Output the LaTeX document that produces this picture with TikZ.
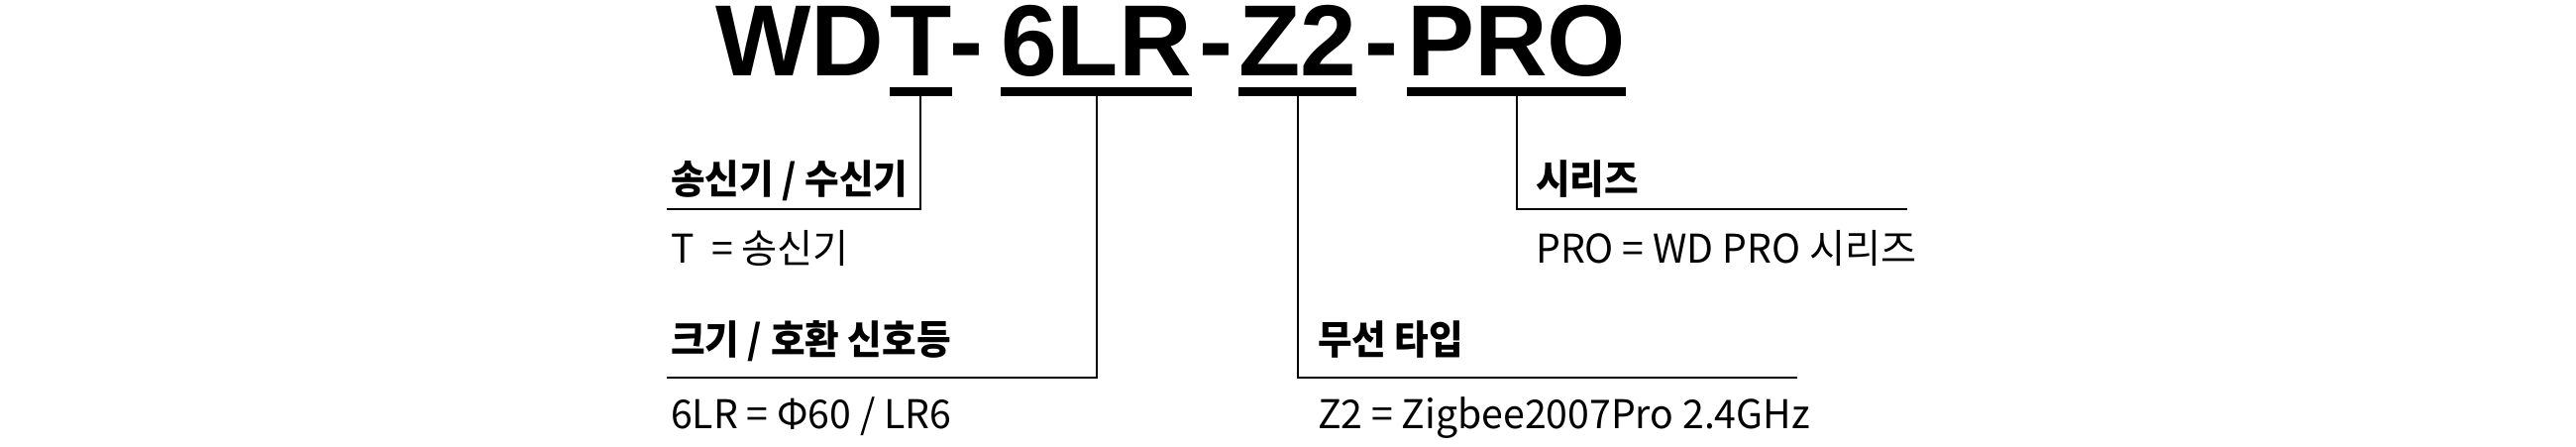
\documentclass[tikz,border=0pt]{standalone}
\usepackage{fontspec}
\setmainfont{Noto Sans CJK KR}
\newfontfamily\hdfont[FakeStretch=0.94]{Noto Sans CJK KR}
\newfontfamily\txfont[FakeStretch=0.98]{Noto Sans CJK KR}
\newfontfamily\titlefont{Liberation Sans}
\begin{document}
\begin{tikzpicture}[x=1pt,y=-1pt,
  ttl/.style={inner sep=0pt, anchor=base west, font=\titlefont\bfseries\fontsize{102}{102}\selectfont},
  hd/.style={inner sep=0pt, anchor=base west, font=\hdfont\bfseries\fontsize{40}{40}\selectfont},
  tx/.style={inner sep=0pt, anchor=base west, font=\txfont\fontsize{40}{40}\selectfont},
  lead/.style={line width=2pt}]
\useasboundingbox (0,0) rectangle (2600,450);
% title pieces
\node[ttl] (wd) at (722,76) {WD};
\node[ttl] (t) at (898,76) {T};
\node[ttl, anchor=base] (d1) at (975,76) {-};
\node[ttl] (lr) at (1010,76) {6LR};
\node[ttl, anchor=base] (d2) at (1227,76) {-};
\node[ttl] (z) at (1250,76) {Z2};
\node[ttl, anchor=base] (d3) at (1394,76) {-};
\node[ttl] (pro) at (1420,76) {PRO};
% underlines
\foreach \n in {t,lr,z,pro}{
  \fill ([yshift=-12pt]\n.base west) rectangle ([yshift=-21pt]\n.base east);
  \coordinate (\n U) at ([yshift=-21pt]\n.base);
}
% end points of leaders
\coordinate (c1) at (673,211);
\coordinate (c2) at (673,381);
\coordinate (c3) at (1814,381);
\coordinate (c4) at (1925,211);
\draw[lead] (tU) |- (c1);
\draw[lead] (lrU) |- (c2);
\draw[lead] (zU) |- (c3);
\draw[lead] (proU) |- (c4);
% texts
\node[hd] (h1) at (677,195) {송신기 / 수신기};
\node[tx] (v1) at (677,265) {T\ \ = 송신기};
\node[hd] (h2) at (677,357) {크기 / 호환 신호등};
\node[tx] (v2) at (677,432) {6LR = Φ60 / LR6};
\node[hd] (h3) at (1330,357) {무선 타입};
\node[tx] (v3) at (1330,432) {Z2 = Zigbee2007Pro 2.4GHz};
\node[hd] (h4) at (1550,195) {시리즈};
\node[tx] (v4) at (1550,265) {PRO = WD PRO 시리즈};
\end{tikzpicture}
\end{document}
